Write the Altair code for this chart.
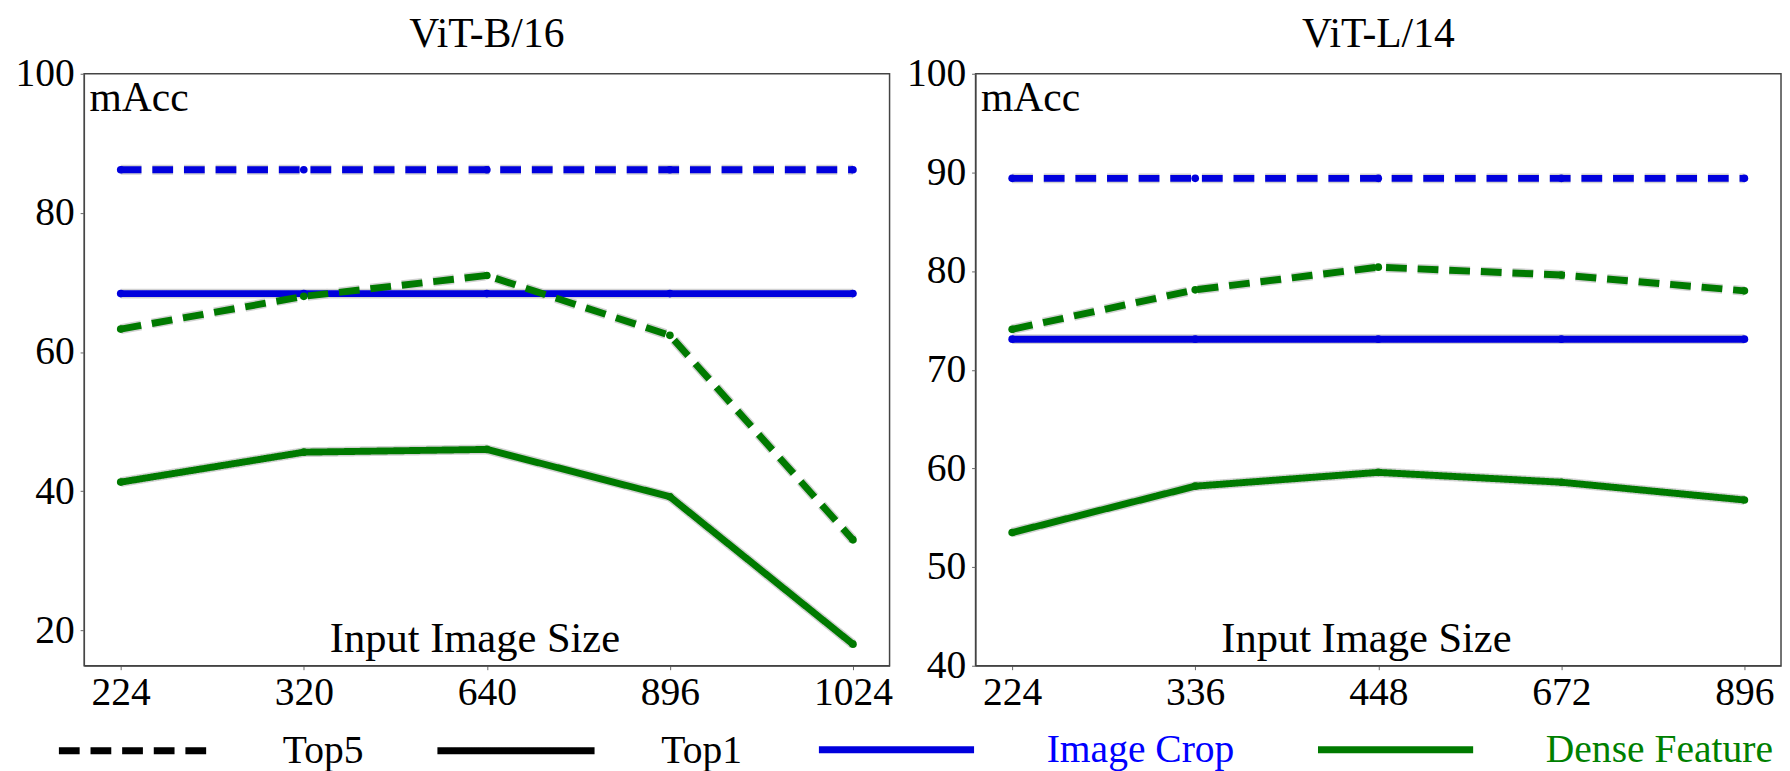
import altair as alt
import pandas as pd

# ---------------- data ----------------
sizes_b = ["224", "320", "640", "896", "1024"]
sizes_l = ["224", "336", "448", "672", "896"]

b_crop_top5 = [86.2, 86.2, 86.2, 86.2, 86.2]
b_crop_top1 = [68.4, 68.4, 68.4, 68.4, 68.4]
b_dense_top5 = [63.3, 68.0, 71.0, 62.4, 33.0]
b_dense_top1 = [41.3, 45.6, 46.0, 39.2, 18.0]

l_crop_top5 = [89.4, 89.4, 89.4, 89.4, 89.4]
l_crop_top1 = [73.1, 73.1, 73.1, 73.1, 73.1]
l_dense_top5 = [74.1, 78.1, 80.4, 79.6, 78.0]
l_dense_top1 = [53.5, 58.2, 59.6, 58.6, 56.8]

methods = ["Image Crop", "Dense Feature"]
topks = ["Top5", "Top1"]

FONT = "Liberation Serif"
BLUE = "#0000dd"
GREEN = "#007a00"

color_scale = alt.Scale(domain=methods, range=[BLUE, GREEN])
dash_scale = alt.Scale(domain=topks, range=[[21, 11], [1, 0]])

color_legend = alt.Legend(
    orient="none", legendX=740, legendY=602, direction="horizontal",
    title=None, symbolType="stroke", symbolSize=24649,
    symbolStrokeWidth=7, labelFont=FONT, labelFontSize=40, labelLimit=500,
    labelOffset=70, columnPadding=70,
    labelColor={"expr": "datum.label == 'Image Crop' ? '#0000ff' : '#008000'"},
    symbolStrokeColor={"expr": "datum.label == 'Image Crop' ? '#0000ff' : '#37903b'"},
)
dash_legend = alt.Legend(
    orient="none", legendX=-29, legendY=602, direction="horizontal",
    title=None, symbolType="stroke", symbolSize=25281,
    symbolStrokeWidth=7, symbolStrokeColor="black",
    labelFont=FONT, labelFontSize=40, labelColor="black", labelLimit=500,
    labelOffset=64, columnPadding=60,
)


def make_df(sizes, crop5, crop1, dense5, dense1):
    rows = []
    for method, topk, vals in [
        ("Image Crop", "Top5", crop5),
        ("Image Crop", "Top1", crop1),
        ("Dense Feature", "Top5", dense5),
        ("Dense Feature", "Top1", dense1),
    ]:
        for s, v in zip(sizes, vals):
            rows.append({"size": s, "value": v, "method": method,
                         "topk": topk, "series": method + " " + topk})
    return pd.DataFrame(rows)


def panel(df, sizes, title, ydom, yticks):
    x = alt.X(
        "size:N", sort=sizes,
        scale=alt.Scale(type="point", padding=0.2),
        axis=alt.Axis(title="Input Image Size", labelAngle=0,
                      titleX=395, titleY=-14, titleAlign="center",
                      titleBaseline="alphabetic", labelPadding=3,
                      titleFontSize=43),
    )
    y = alt.Y(
        "value:Q",
        scale=alt.Scale(domain=ydom, nice=False, zero=False),
        axis=alt.Axis(values=yticks, title="mAcc", titleAngle=0,
                      titleX=5, titleY=37, titleAlign="left",
                      titleBaseline="alphabetic", labelPadding=6,
                      titleFontSize=42),
    )
    base = alt.Chart(df).encode(x=x, y=y, detail="series:N")

    outline = base.mark_line(strokeWidth=10, color="#d2d2d2").encode(
        strokeDash=alt.StrokeDash("topk:N", scale=dash_scale, legend=dash_legend)
    )
    main = base.mark_line(strokeWidth=7).encode(
        color=alt.Color("method:N", scale=color_scale, legend=color_legend),
        strokeDash=alt.StrokeDash("topk:N", scale=dash_scale, legend=dash_legend),
    )
    pts = base.mark_point(filled=True, size=60, opacity=1).encode(
        color=alt.Color("method:N", scale=color_scale, legend=color_legend)
    )
    return alt.layer(outline, main, pts).properties(
        width=815, height=599,
        title=alt.TitleParams(title),
    )


df_b = make_df(sizes_b, b_crop_top5, b_crop_top1, b_dense_top5, b_dense_top1)
df_l = make_df(sizes_l, l_crop_top5, l_crop_top1, l_dense_top5, l_dense_top1)

left = panel(df_b, sizes_b, "ViT-B/16", [14.9, 100], [20, 40, 60, 80, 100])
right = panel(df_l, sizes_l, "ViT-L/14", [40, 100], [40, 50, 60, 70, 80, 90, 100])

chart = (
    alt.hconcat(left, right, spacing=12)
    .resolve_scale(x="independent", y="independent")
    .properties(padding={"left": 6, "top": 0, "right": 0, "bottom": 0})
    .configure_view(stroke="#444444", strokeWidth=1.5)
    .configure_axis(
        labelFont=FONT, labelFontSize=40, labelColor="black",
        titleFont=FONT, titleFontSize=40, titleFontWeight="normal",
        titleColor="black", tickSize=4, tickColor="#666666",
        domainColor="#444444", grid=False,
    )
    .configure_title(font=FONT, fontSize=42, fontWeight="normal",
                     color="black", anchor="middle", offset=-2)
    .configure_legend(symbolStrokeWidth=7)
)

chart.save("out.html", embed_options={"renderer": "svg", "actions": False})
